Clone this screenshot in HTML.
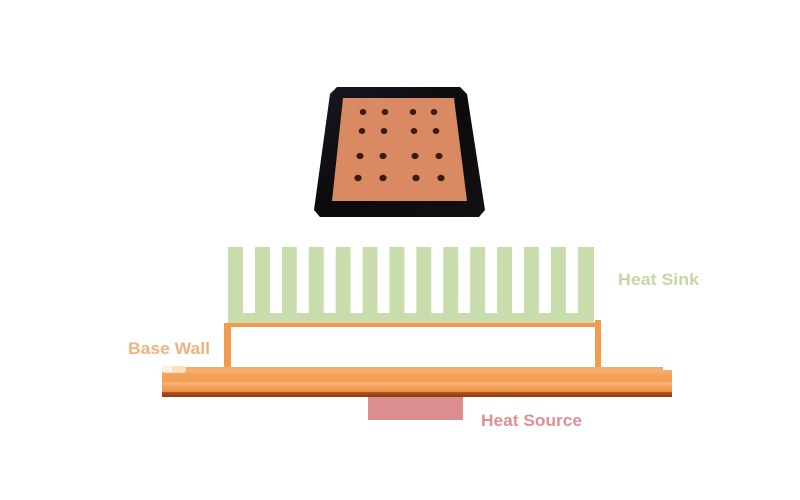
<!DOCTYPE html>
<html><head><meta charset="utf-8"><style>
html,body{margin:0;padding:0;background:#fff;width:800px;height:500px;overflow:hidden}
svg{display:block}
text{font-family:"Liberation Sans",sans-serif;font-weight:bold;font-size:17px}
</style></head><body>
<svg width="800" height="500" viewBox="0 0 800 500" xmlns="http://www.w3.org/2000/svg">
<defs>
<linearGradient id="plate" x1="0" y1="0" x2="0" y2="1">
<stop offset="0" stop-color="#f7b274"/>
<stop offset="0.15" stop-color="#f5a45d"/>
<stop offset="0.4" stop-color="#f49e55"/>
<stop offset="0.5" stop-color="#f8b57a"/>
<stop offset="0.62" stop-color="#f49f57"/>
<stop offset="0.8" stop-color="#f0954c"/>
<stop offset="0.83" stop-color="#a9501e"/>
<stop offset="1" stop-color="#8a3c14"/>
</linearGradient>
<linearGradient id="chip" x1="0" y1="0" x2="1" y2="1">
<stop offset="0" stop-color="#1a1722"/>
<stop offset="0.5" stop-color="#0b0a0c"/>
<stop offset="1" stop-color="#121014"/>
</linearGradient>
</defs>
<rect width="800" height="500" fill="#fff"/>

<!-- Chip -->
<polygon points="337,87 460,87 467,94 485,210 479,217 320,217 314,210 330,94" fill="url(#chip)"/>
<polygon points="343,98 454,98 467,201 332,201" fill="#d98a63"/>
<g fill="#3b1a0f">
<ellipse cx="363" cy="112" rx="3.3" ry="3"/><ellipse cx="385" cy="112" rx="3.3" ry="3"/><ellipse cx="413" cy="112" rx="3.3" ry="3"/><ellipse cx="434" cy="112" rx="3.3" ry="3"/>
<ellipse cx="362" cy="131" rx="3.3" ry="3"/><ellipse cx="384" cy="131" rx="3.3" ry="3"/><ellipse cx="414" cy="131" rx="3.3" ry="3"/><ellipse cx="436" cy="131" rx="3.3" ry="3"/>
<ellipse cx="360" cy="156" rx="3.5" ry="3.1"/><ellipse cx="383" cy="156" rx="3.5" ry="3.1"/><ellipse cx="415" cy="156" rx="3.5" ry="3.1"/><ellipse cx="439" cy="156" rx="3.5" ry="3.1"/>
<ellipse cx="358" cy="178" rx="3.6" ry="3.2"/><ellipse cx="383" cy="178" rx="3.6" ry="3.2"/><ellipse cx="416" cy="178" rx="3.6" ry="3.2"/><ellipse cx="441" cy="178" rx="3.6" ry="3.2"/>
</g>

<!-- Heat sink -->
<rect x="228" y="247" width="366" height="77" fill="#c9dcab"/>
<g fill="#fff">
<rect x="243" y="247" width="12" height="66"/>
<rect x="269.9" y="247" width="12" height="66"/>
<rect x="296.8" y="247" width="12" height="66"/>
<rect x="323.7" y="247" width="12" height="66"/>
<rect x="350.6" y="247" width="12" height="66"/>
<rect x="377.5" y="247" width="12" height="66"/>
<rect x="404.4" y="247" width="12" height="66"/>
<rect x="431.3" y="247" width="12" height="66"/>
<rect x="458.2" y="247" width="12" height="66"/>
<rect x="485.1" y="247" width="12" height="66"/>
<rect x="512" y="247" width="12" height="66"/>
<rect x="538.9" y="247" width="12" height="66"/>
<rect x="565.8" y="247" width="12" height="66"/>
</g>

<!-- Orange frame -->
<g fill="#f29a4d">
<rect x="224" y="323" width="377" height="4"/>
<rect x="224" y="323" width="7" height="50"/>
<rect x="595" y="320" width="6" height="53"/>
</g>

<!-- Base plate -->
<rect x="162" y="367" width="501" height="6" fill="#f6ab6a"/>
<rect x="162" y="370" width="510" height="27" fill="url(#plate)"/>
<rect x="162" y="366" width="24" height="7" rx="3" fill="#fbe0c2"/>
<rect x="162" y="366" width="10" height="6" fill="#fdf0e2"/>

<!-- Heat source -->
<rect x="368" y="397" width="95" height="23" fill="#dd8e91"/>

<!-- Labels -->
<text x="618" y="285" fill="#c5d8a4" textLength="81" lengthAdjust="spacingAndGlyphs">Heat Sink</text>
<text x="128" y="354" fill="#f2b27f" textLength="82" lengthAdjust="spacingAndGlyphs">Base Wall</text>
<text x="481" y="426" fill="#dc9096" textLength="101" lengthAdjust="spacingAndGlyphs">Heat Source</text>
</svg>
</body></html>
